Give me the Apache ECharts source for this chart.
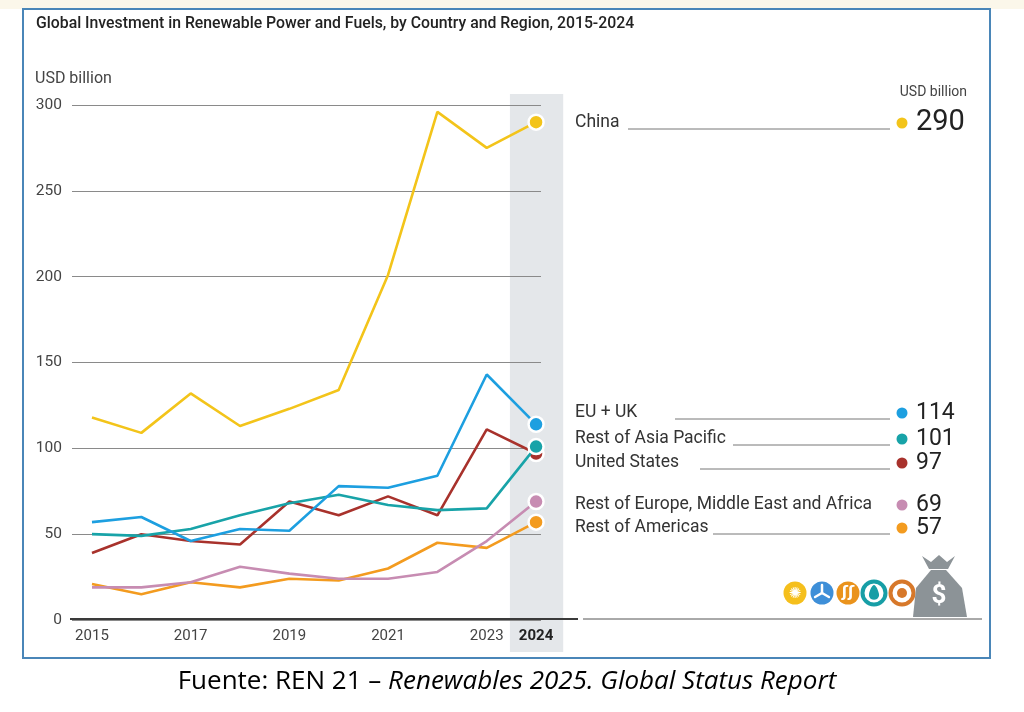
<!DOCTYPE html>
<html>
<head>
<meta charset="utf-8">
<script src="https://cdn.jsdelivr.net/npm/echarts@6/dist/echarts.min.js"></script>
<style>
html, body { margin: 0; padding: 0; background: #fff; }
#main { width: 1024px; height: 712px; }
</style>
</head>
<body>
<div id="main"></div>
<script>
// data (USD billion)
var years = [2015, 2016, 2017, 2018, 2019, 2020, 2021, 2022, 2023, 2024];
var tickYears = [2015, 2017, 2019, 2021, 2023, 2024];
var china = [118, 109, 132, 113, 123, 134, 201, 296, 275, 290];
var euUk = [57, 60, 46, 53, 52, 78, 77, 84, 143, 114];
var restAsiaPacific = [50, 49, 53, 61, 68, 73, 67, 64, 65, 101];
var unitedStates = [39, 50, 46, 44, 69, 61, 72, 61, 111, 97];
var restEuropeMEA = [19, 19, 22, 31, 27, 24, 24, 28, 46, 69];
var restAmericas = [21, 15, 22, 19, 24, 23, 30, 45, 42, 57];

var font = 'Roboto, "Noto Sans", sans-serif';
var last = years.length - 1;

var myChart = echarts.init(document.getElementById('main'), null, {renderer: 'canvas'});

function line(name, data, color, z) {
	return {
		name: name,
		type: 'line',
		data: years.map(function(y, i) { return [y, data[i]]; }),
		z: z,
		silent: true,
		animation: false,
		symbol: 'circle',
		showSymbol: true,
		symbolSize: function(v, p) { return p.dataIndex === last ? 15 : 0; },
		lineStyle: { color: color, width: 2.6 },
		itemStyle: { color: color, borderColor: '#fff', borderWidth: 2.5 }
	};
}

// label rows on the right: name, values, colour, text y, leader start x
var rows = [
	{ name: 'China', data: china, color: '#f3c41a', y: 123, lineFrom: 628, big: true },
	{ name: 'EU + UK', data: euUk, color: '#1d9fe0', y: 413, lineFrom: 675 },
	{ name: 'Rest of Asia Pacific', data: restAsiaPacific, color: '#18a3a8', y: 439, lineFrom: 733 },
	{ name: 'United States', data: unitedStates, color: '#a8322c', y: 463, lineFrom: 700 },
	{ name: 'Rest of Europe, Middle East and Africa', data: restEuropeMEA, color: '#c78cb2', y: 505, lineFrom: 0 },
	{ name: 'Rest of Americas', data: restAmericas, color: '#f39b1f', y: 528, lineFrom: 713 }
];

option = {
	backgroundColor: '#fff',
	animation: false,
	grid: { left: 72, right: 483, top: 105, bottom: 92 },
	xAxis: {
		type: 'value',
		min: 2014.595,
		max: 2024.1,
		axisLine: { show: false },
		axisTick: { show: false },
		splitLine: { show: false },
		axisLabel: {
			customValues: tickYears,
			margin: 9,
			fontFamily: font,
			fontSize: 15,
			color: '#444',
			formatter: function(v) { return v === 2024 ? '{b|2024}' : String(v); },
			rich: { b: { fontFamily: font, fontSize: 15, fontWeight: 'bold', color: '#222' } }
		}
	},
	yAxis: {
		type: 'value',
		min: 0,
		max: 300,
		interval: 50,
		axisLine: { show: false },
		axisTick: { show: false },
		splitLine: { lineStyle: { color: '#8a8a8a', width: 1 } },
		axisLabel: { margin: 10, fontFamily: font, fontSize: 15.5, color: '#444' }
	},
	series: [
		line('China', china, rows[0].color, 3),
		line('Rest of Americas', restAmericas, rows[5].color, 4),
		line('Rest of Europe, Middle East and Africa', restEuropeMEA, rows[4].color, 5),
		line('United States', unitedStates, rows[3].color, 6),
		line('Rest of Asia Pacific', restAsiaPacific, rows[2].color, 7),
		line('EU + UK', euUk, rows[1].color, 8)
	]
};
myChart.setOption(option);

// decoration, placed with the chart's own scales
var band0 = myChart.convertToPixel({ xAxisIndex: 0 }, 2023.47);
var band1 = myChart.convertToPixel({ xAxisIndex: 0 }, 2024.55);
var y0 = myChart.convertToPixel({ yAxisIndex: 0 }, 0);

var g = [];
g.push({ type: 'rect', z: -10, shape: { x: 0, y: 0, width: 1024, height: 9 }, style: { fill: '#fbf7ea' } });
g.push({ type: 'rect', z: -9, shape: { x: band0, y: 94, width: band1 - band0, height: 558 }, style: { fill: '#e4e7ea' } });
g.push({ type: 'rect', z: 20, shape: { x: 23, y: 9, width: 967, height: 649 }, style: { fill: null, stroke: '#4a86b8', lineWidth: 2 } });
g.push({ type: 'line', z: 10, shape: { x1: 70, y1: y0 - 1, x2: 578, y2: y0 - 1 }, style: { stroke: '#3a3a3a', lineWidth: 2 } });
g.push({ type: 'line', z: 10, shape: { x1: 583, y1: y0 - 1, x2: 982, y2: y0 - 1 }, style: { stroke: '#555', lineWidth: 1 } });

g.push({ type: 'text', z: 10, x: 36, y: 24, style: {
	text: 'Global Investment in Renewable Power and Fuels, by Country and Region, 2015-2024',
	font: '500 15.8px ' + font, fill: '#222', verticalAlign: 'middle' } });
g.push({ type: 'text', z: 10, x: 35, y: 79, style: { text: 'USD billion', font: '16px ' + font, fill: '#444', verticalAlign: 'middle' } });
g.push({ type: 'text', z: 10, x: 967, y: 92, style: { text: 'USD billion', font: '14px ' + font, fill: '#444', align: 'right', verticalAlign: 'middle' } });

rows.forEach(function(r) {
	g.push({ type: 'text', z: 10, x: 575, y: r.y, style: { text: r.name, font: '17.5px ' + font, fill: '#333', verticalAlign: 'middle' } });
	if (r.lineFrom) {
		g.push({ type: 'line', z: 10, shape: { x1: r.lineFrom, y1: r.y + 6, x2: 890, y2: r.y + 6 }, style: { stroke: '#777', lineWidth: 1 } });
	}
	g.push({ type: 'circle', z: 10, shape: { cx: 902, cy: r.y, r: 5.5 }, style: { fill: r.color } });
	g.push({ type: 'text', z: 10, x: 916, y: r.y, style: {
		text: String(r.data[last]), font: (r.big ? '29px ' : '23px ') + font, fill: '#222', verticalAlign: 'middle' } });
});

// technology icons and money bag
var icy = 593;
g.push({ type: 'circle', z: 10, shape: { cx: 795, cy: icy, r: 11.5 }, style: { fill: '#f5bf1c' } });
g.push({ type: 'text', z: 11, x: 795, y: icy + 1, style: { text: '✺', font: '15px "DejaVu Sans"', fill: '#fff', align: 'center', verticalAlign: 'middle' } });
g.push({ type: 'circle', z: 10, shape: { cx: 822, cy: icy, r: 11.5 }, style: { fill: '#3e8fd8' } });
[-90, 30, 150].forEach(function(a) {
	var rad = a * Math.PI / 180;
	g.push({ type: 'line', z: 11, shape: { x1: 822, y1: icy, x2: 822 + 8 * Math.cos(rad), y2: icy + 8 * Math.sin(rad) }, style: { stroke: '#fff', lineWidth: 2.5, lineCap: 'round' } });
});
g.push({ type: 'circle', z: 10, shape: { cx: 848, cy: icy, r: 11.5 }, style: { fill: '#ea931c' } });
g.push({ type: 'text', z: 11, x: 848, y: icy, style: { text: 'ʃʃ', font: 'bold 15px "DejaVu Sans"', fill: '#fff', align: 'center', verticalAlign: 'middle' } });
g.push({ type: 'circle', z: 10, shape: { cx: 874, cy: icy, r: 11.5 }, style: { fill: '#fff', stroke: '#179ea6', lineWidth: 4 } });
g.push({ type: 'polygon', z: 11, shape: { points: [[874, 585], [879, 594], [877, 599], [871, 599], [869, 594]], smooth: 0.4 }, style: { fill: '#179ea6' } });
g.push({ type: 'circle', z: 10, shape: { cx: 902, cy: icy, r: 11.5 }, style: { fill: '#fff', stroke: '#d7782a', lineWidth: 4 } });
g.push({ type: 'circle', z: 11, shape: { cx: 902, cy: icy, r: 5 }, style: { fill: '#d7782a' } });
g.push({ type: 'polygon', z: 12, shape: { points: [[922, 556], [931, 562], [939, 555], [947, 562], [955, 556], [948, 569], [929, 569]] }, style: { fill: '#8c9397' } });
g.push({ type: 'polygon', z: 12, shape: { points: [[931, 570], [946, 570], [962, 588], [967, 617], [913, 617], [916, 588]] }, style: { fill: '#8c9397' } });
g.push({ type: 'text', z: 13, x: 939, y: 596, style: { text: '$', font: 'bold 26px ' + font, fill: '#fff', align: 'center', verticalAlign: 'middle' } });

g.push({ type: 'text', z: 10, x: 507, y: 682, style: {
	text: '{a|Fuente: REN 21 – }{b|Renewables 2025. Global Status Report}',
	align: 'center', verticalAlign: 'middle',
	rich: {
		a: { fontFamily: '"Open Sans", sans-serif', fontSize: 26, color: '#111' },
		b: { fontFamily: '"Open Sans", sans-serif', fontSize: 26, fontStyle: 'italic', color: '#111' }
	} } });

myChart.setOption({ graphic: { elements: g } });
</script>
</body>
</html>
